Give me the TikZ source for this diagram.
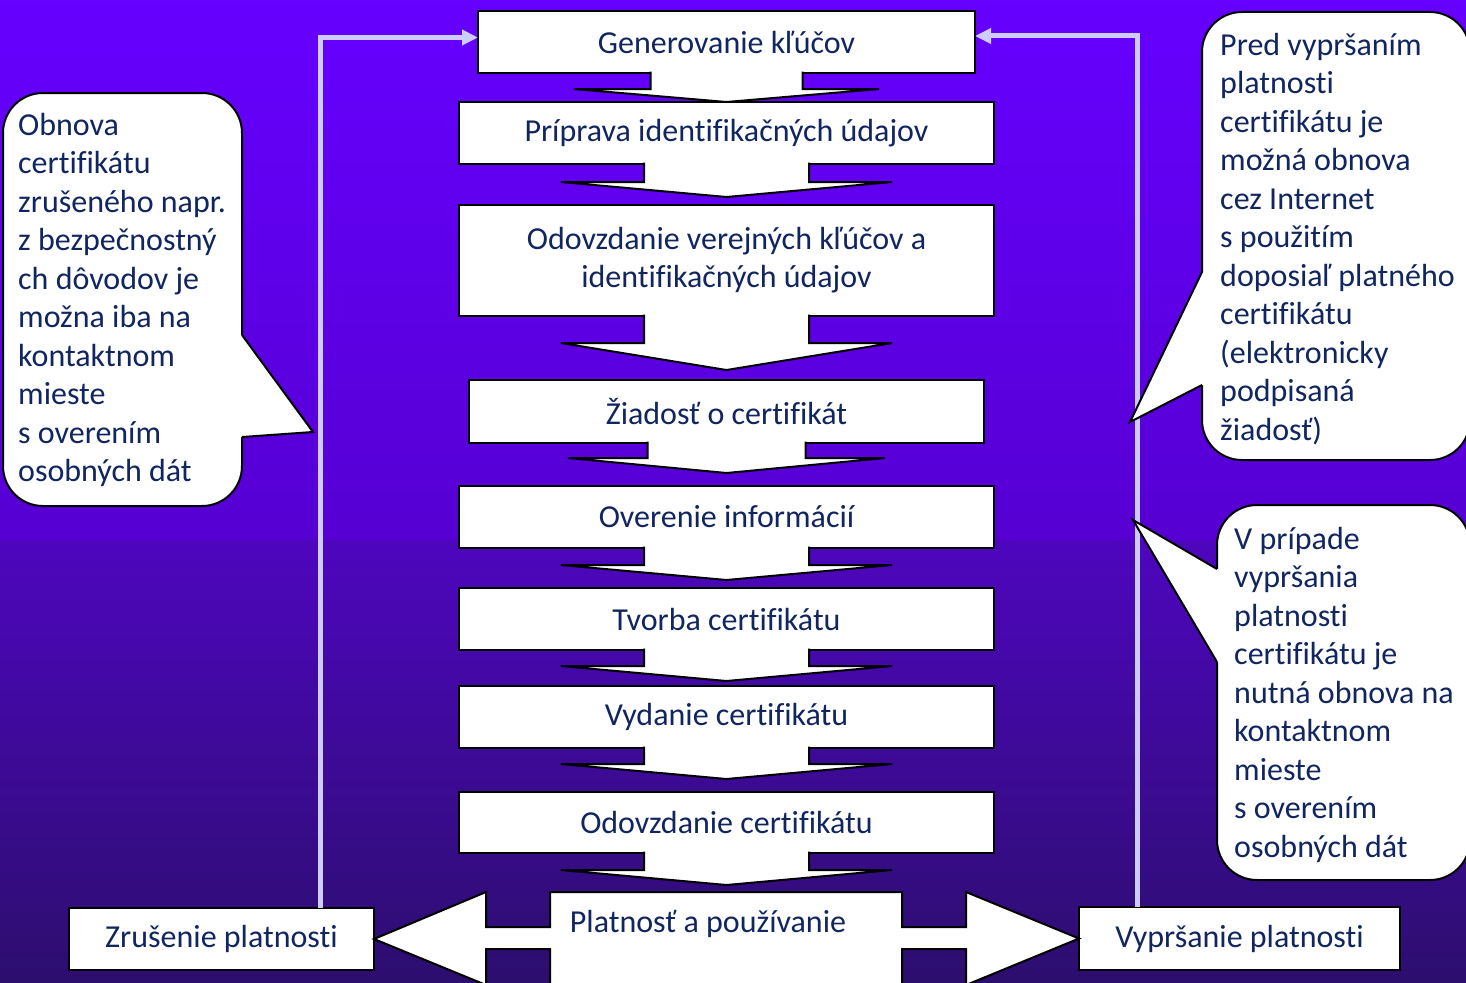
\documentclass[tikz,border=0pt]{standalone}
\usepackage{fontspec}
\setmainfont{Carlito}[Ligatures=NoCommon]
\usetikzlibrary{calc,arrows.meta}

\definecolor{txtblue}{RGB}{17,38,96}
\definecolor{bgtop}{RGB}{102,0,255}
\definecolor{bgmidA}{RGB}{86,0,210}
\definecolor{bgmidB}{RGB}{78,6,190}
\definecolor{bgbot}{RGB}{44,14,110}
\definecolor{lavender}{RGB}{204,204,255}

\begin{document}
\begin{tikzpicture}[
  x=1pt, y=-1pt,  % pixel grid of the slide, y grows downwards
  stagebox/.style={draw=black, line width=2pt, fill=white, text=txtblue,
    inner sep=0pt, outer sep=0pt, align=center, font=\fontsize{32}{38.5}\selectfont},
  outline/.style={draw=black, line width=2pt, fill=white},
  bubbletext/.style={text=txtblue, inner sep=0pt, align=left, anchor=north west,
    font=\fontsize{32}{38.5}\selectfont},
  feedback/.style={draw=lavender, line width=5pt, -{Triangle[length=16pt,width=15pt]}}
]

% ---------------- Background ----------------
\useasboundingbox (0,0) rectangle (1466,982);
\shade[top color=bgtop, bottom color=bgmidA] (0,0) rectangle (1466,541);
\shade[top color=bgmidB, bottom color=bgbot] (0,540) rectangle (1466,982);

% ---------------- Main chain ----------------
\node[stagebox, minimum width=497, minimum height=62] (gen) at (726.5,42) {Generovanie kľúčov};
\node[stagebox, minimum width=535, minimum height=62] (prep) at (726.5,133) {Príprava identifikačných údajov};
\node[stagebox, minimum width=535, minimum height=111] (hand) at (726.5,260.5) {\raisebox{3pt}{\begin{tabular}{@{}c@{}}Odovzdanie verejných kľúčov a\\[-0.2pt]identifikačných údajov\end{tabular}}};
\node[stagebox, minimum width=515, minimum height=63] (req) at (726.5,411.5) {Žiadosť o certifikát};
\node[stagebox, minimum width=535, minimum height=62] (check) at (726.5,517) {Overenie informácií};
\node[stagebox, minimum width=535, minimum height=62] (make) at (726.5,619) {Tvorba certifikátu};
\node[stagebox, minimum width=535, minimum height=62] (issue) at (726.5,717) {Vydanie certifikátu};
\node[stagebox, minimum width=535, minimum height=61] (deliver) at (726.5,822.5) {Odovzdanie certifikátu};

% down arrows hanging under each box (stem half width / head half width / stem / head)
\foreach \nd/\sw/\hw/\sl/\hl in {gen/76/152.5/16/13, prep/82.5/165.5/18/15,
    hand/82.5/165.5/27/27, req/79/158.5/15/15, check/82.5/165.5/17/15,
    make/82.5/165.5/16/15, issue/82.5/165.5/16/15, deliver/82.5/165.5/17/15} {
  \filldraw[outline] ($(\nd.south)+(-\sw,-1.5)$) -- ($(\nd.south)+(-\sw,\sl)$)
    -- ($(\nd.south)+(-\hw,\sl)$) -- ($(\nd.south)+(0,{\sl+\hl})$)
    -- ($(\nd.south)+(\hw,\sl)$) -- ($(\nd.south)+(\sw,\sl)$)
    -- ($(\nd.south)+(\sw,-1.5)$);
}

% ---------------- Bottom row ----------------
\node[stagebox, minimum width=305, minimum height=62] (revoke) at (221.5,939) {Zrušenie platnosti};
\node[stagebox, minimum width=321, minimum height=63] (expire) at (1239.5,938.5) {Vypršanie platnosti};

% left-right arrow of the usage phase
\filldraw[outline] (550,892) -- (902,892) -- (902,927) -- (966,927) -- (966,892)
  -- (expire.west) -- (966,985) -- (966,949) -- (902,949) -- (902,995)
  -- (550,995) -- (550,949) -- (486,949) -- (486,985) -- (revoke.east)
  -- (486,892) -- (486,927) -- (550,927) -- cycle;
\node[text=txtblue, inner sep=0pt, anchor=base, font=\fontsize{32}{38.5}\selectfont] (use) at (708,932) {Platnosť a používanie};

% ---------------- Renewal loops ----------------
\draw[feedback] ([xshift=98.5pt]revoke.north) |- ([yshift=4.5pt]gen.west);
\draw[feedback] ([xshift=-102.5pt]expire.north) |- ([yshift=6pt]gen.east);

% ---------------- Callouts ----------------
% left
\draw[outline, rounded corners=40pt] (3,93) rectangle (242,506);
\fill[white] (239,335) -- (242,335) -- (313,432) -- (242,437) -- (239,437) -- cycle;
\draw[line width=2pt] (242,335) -- (313,432) -- (242,437);
\node[bubbletext] (renewtxt) at (18,113) {Obnova\\certifikátu\\zrušeného napr.\\z bezpečnostný\\ch dôvodov je\\možna iba na\\kontaktnom\\mieste\\s overením\\osobných dát};

% upper right
\draw[outline, rounded corners=40pt] (1202,12) rectangle (1470,460);
\fill[white] (1205,272) -- (1202,272) -- (1130,422) -- (1202,385) -- (1205,385) -- cycle;
\draw[line width=2pt] (1202,272) -- (1130,422) -- (1202,385);
\node[bubbletext] (onlinetxt) at (1220,33) {Pred vypršaním\\platnosti\\certifikátu je\\možná obnova\\cez Internet\\s použitím\\doposiaľ platného\\certifikátu\\(elektronicky\\podpisaná\\žiadosť)};

% lower right
\draw[outline, rounded corners=40pt] (1217,505) rectangle (1470,880);
\fill[white] (1220,569) -- (1217,569) -- (1133,520) -- (1217,662) -- (1220,662) -- cycle;
\draw[line width=2pt] (1217,569) -- (1133,520) -- (1217,662);
\node[bubbletext] (expiredtxt) at (1234,527) {V prípade\\vypršania\\platnosti\\certifikátu je\\nutná obnova na\\kontaktnom\\mieste\\s overením\\osobných dát};

\end{tikzpicture}
\end{document}
